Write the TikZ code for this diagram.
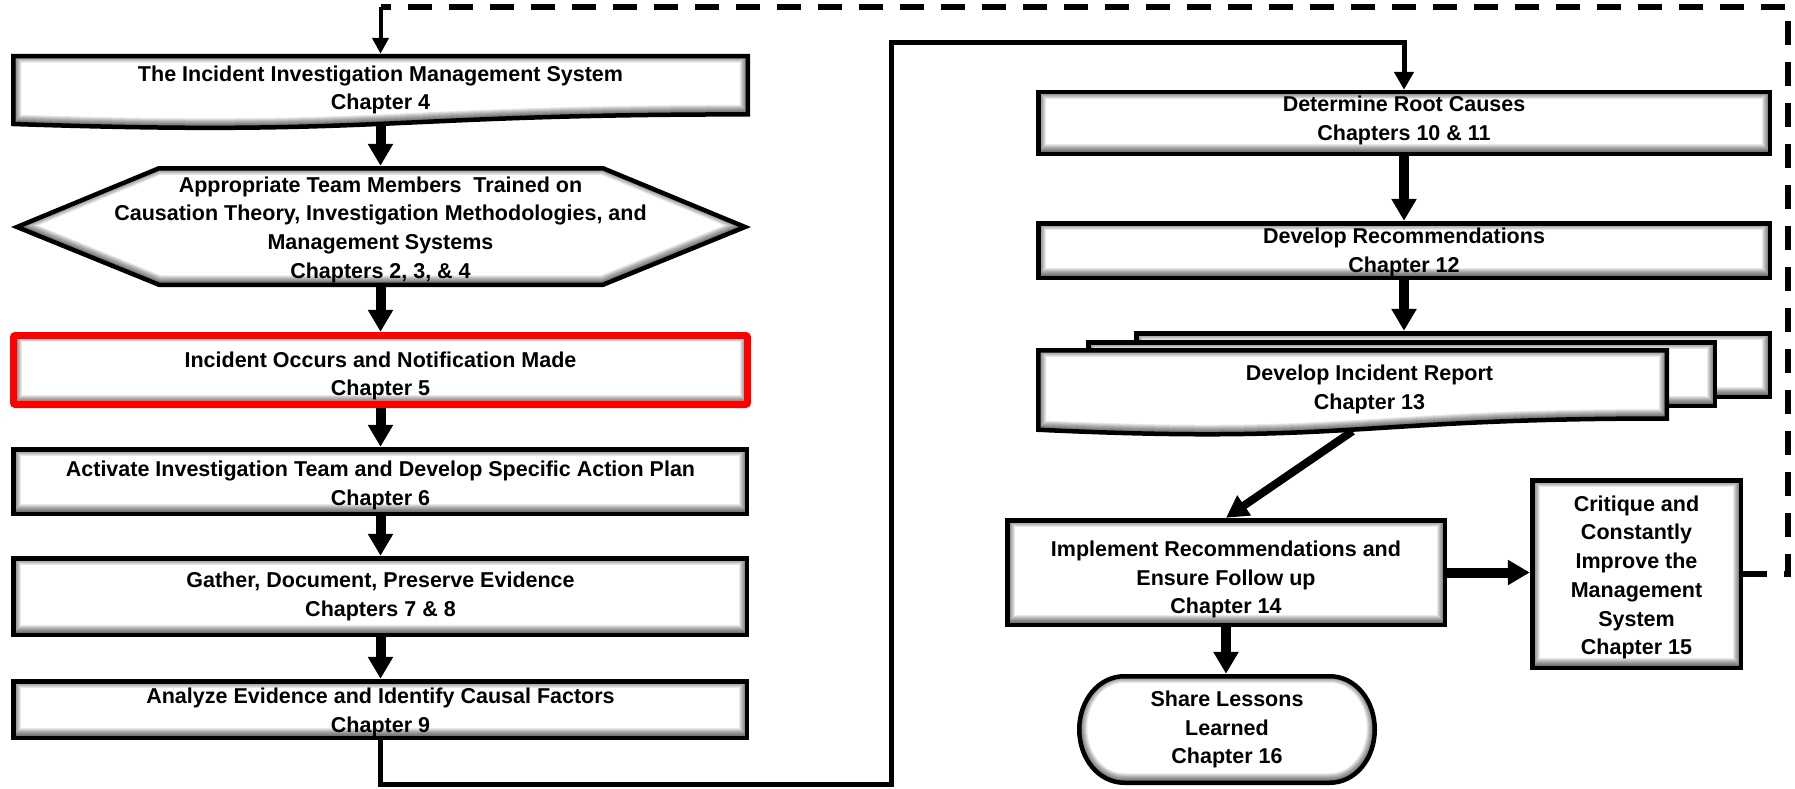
\documentclass[tikz,border=0pt]{standalone}
\usepackage{fontspec}
\setmainfont{Liberation Sans}
\usetikzlibrary{arrows.meta}

% white shape with a soft grey inner shadow and a solid frame
\newcommand\softbox[2][frame]{%
  \fill[white] #2;
  \begin{scope}
    \clip #2;
    \foreach \w in {16,14,...,2}{\draw[black,opacity=0.09,line width=\w pt,yshift=1.5pt] #2;}
  \end{scope}
  \draw[#1] #2;}
% extra room above the first line pushes a label down
\newcommand\pushdown[1]{\rule{0pt}{#1}}
% extra depth below the last line lifts a label
\newcommand\pushup[1]{\rule[-#1]{0pt}{#1}}

\begin{document}
\begin{tikzpicture}[x=1pt,y=-1pt,
  frame/.style={line width=4.5pt,black,line join=miter},
  redframe/.style={line width=7pt,red,rounded corners=2pt},
  box/.style={inner sep=0pt,align=center,font=\fontsize{21.5}{28.7}\selectfont\bfseries},
  thickarrow/.style={line width=10pt,-{Triangle[width=24pt,length=22pt]}},
  diagarrow/.style={line width=8pt,-{Triangle[width=23pt,length=22pt]}},
  link/.style={line width=5pt,line join=miter,-{Triangle[width=19pt,length=18pt]}},
  loopline/.style={line width=6pt,line join=miter,dash pattern=on 24pt off 17pt},
  entryarrow/.style={line width=4pt,-{Triangle[width=16pt,length=16pt]}}]

\fill[white] (0,0) rectangle (1795,789);
\useasboundingbox (0,0) rectangle (1795,789);

% ---- left column shapes
\softbox{(13.25,56.25) -- (747.75,56.25) -- (747.75,114.4) .. controls (380.5,114.4) and (380.5,136.5) .. (13.25,124) -- cycle}
\softbox{(17,227) -- (159,168.25) -- (603,168.25) -- (745,227) -- (603,284.75) -- (159,284.75) -- cycle}
\softbox[redframe]{(13.5,335.5) rectangle (747.5,404.5)}
\softbox{(13.25,449.25) rectangle (746.75,513.75)}
\softbox{(13.25,558.25) rectangle (746.75,634.75)}
\softbox{(13.25,681.25) rectangle (746.75,737.75)}

% ---- right column shapes
\softbox{(1038.25,92.25) rectangle (1769.75,153.75)}
\softbox{(1038.25,223.25) rectangle (1769.75,277.75)}
\softbox{(1136.25,333.25) rectangle (1769.75,396.75)}
\softbox{(1088.25,342.25) rectangle (1714.75,405.75)}
\softbox{(1038.25,350.25) -- (1666.75,350.25) -- (1666.75,418.5) .. controls (1352.5,418.5) and (1352.5,444.5) .. (1038.25,429.75) -- cycle}
\softbox{(1007.25,520.25) rectangle (1444.75,624.75)}
\softbox{(1532.25,480.25) rectangle (1740.75,667.75)}
\softbox{(1124.25,676.25) -- (1329.75,676.25) .. controls (1355.2,676.25) and (1374.75,700.1) .. (1374.75,729.5) .. controls (1374.75,758.9) and (1355.2,782.75) .. (1329.75,782.75) -- (1124.25,782.75) .. controls (1098.8,782.75) and (1079.25,758.9) .. (1079.25,729.5) .. controls (1079.25,700.1) and (1098.8,676.25) .. (1124.25,676.25) -- cycle}

% ---- step nodes
\node[box,minimum width=739pt,minimum height=72pt] (b1) at (380.5,90) {The Incident Investigation Management System\\Chapter 4};
\node[box,minimum width=738pt,minimum height=121pt] (hex) at (380.5,226.5) {\pushdown{22pt}Appropriate Team Members\ \ Trained on\\Causation Theory, Investigation Methodologies, and\\Management Systems\\Chapters 2, 3, \& 4};
\node[box,minimum width=741pt,minimum height=76pt] (red) at (380.5,370) {\pushdown{27.5pt}Incident Occurs and Notification Made\\Chapter 5};
\node[box,minimum width=738pt,minimum height=69pt] (act) at (380.5,481.5) {\pushdown{23pt}Activate Investigation Team and Develop Specific Action Plan\\Chapter 6};
\node[box,minimum width=738pt,minimum height=81pt] (gat) at (380.5,596.5) {Gather, Document, Preserve Evidence\\Chapters 7 \& 8};
\node[box,minimum width=738pt,minimum height=61pt] (ana) at (380.5,709.5) {\pushdown{22pt}Analyze Evidence and Identify Causal Factors\\Chapter 9};

\node[box,minimum width=736pt,minimum height=66pt] (det) at (1404,123) {Determine Root Causes\\Chapters 10 \& 11\pushup{9pt}};
\node[box,minimum width=736pt,minimum height=59pt] (rec) at (1404,250.5) {\pushdown{20pt}Develop Recommendations\\Chapter 12};
\node[box,minimum width=638pt,minimum height=68pt] (back) at (1453,365) {};
\node[box,minimum width=631pt,minimum height=68pt] (mid) at (1401.5,374) {};
\node[box,minimum width=633pt,minimum height=83pt] (rep) at (1352.5,389.5) {\hspace*{34pt}\begin{tabular}{@{}c@{}}Develop Incident Report\\Chapter 13\end{tabular}};
\node[box,minimum width=442pt,minimum height=109pt] (imp) at (1226,572.5) {\pushdown{30pt}Implement Recommendations and\\Ensure Follow up\\Chapter 14};
\node[box,minimum width=213pt,minimum height=192pt] (crit) at (1636.5,574) {\pushdown{22.5pt}Critique and\\Constantly\\Improve the\\Management\\System\\Chapter 15};
\node[box,minimum width=300pt,minimum height=111pt] (share) at (1227,729.5) {Share Lessons\\Learned\\Chapter 16};

% ---- flow arrows
\draw[thickarrow] (b1.south) -- (b1.south |- hex.north);
\draw[thickarrow] (hex.south) -- (hex.south |- red.north);
\draw[thickarrow] (red.south) -- (red.south |- act.north);
\draw[thickarrow] (act.south) -- (act.south |- gat.north);
\draw[thickarrow] (gat.south) -- (gat.south |- ana.north);

\coordinate (lowR) at (891,784);
\coordinate (topL) at (891,43);
\draw[link] (ana.south) |- (lowR) -- (topL) -| (det.north);

\draw[thickarrow] (det.south) -- (det.south |- rec.north);
\draw[thickarrow] (rec.south) -- (rec.south |- back.north);
\draw[diagarrow] (rep.south) -- (imp.north);
\draw[thickarrow] (imp.south) -- (imp.south |- share.north);
\draw[thickarrow] (imp.east) -- (imp.east -| crit.west);

% ---- feedback loop
\coordinate (loopR) at (1788,7);
\coordinate (loopL) at (380.5,7);
\draw[loopline] (crit.east) -| (loopR) -- (loopL);
\draw[entryarrow] (loopL) -- (b1.north);
\end{tikzpicture}
\end{document}
